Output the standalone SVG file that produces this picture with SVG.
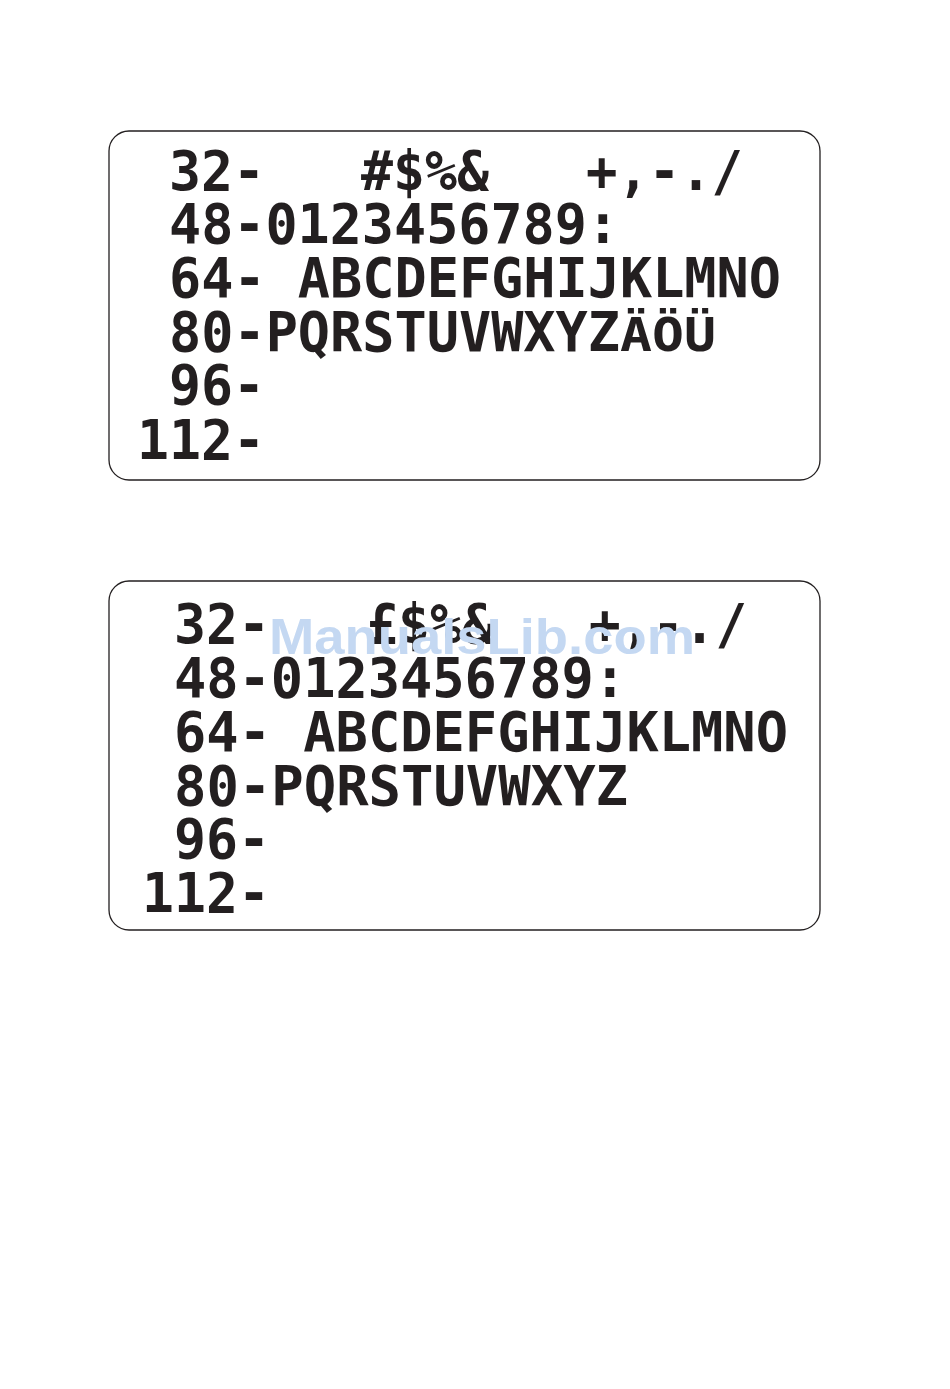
<svg xmlns="http://www.w3.org/2000/svg" width="950" height="1389" viewBox="0 0 950 1389">
  <style>
    .box { fill: #ffffff; stroke: #231f20; stroke-width: 1.3; }
    .t { font-family: "DejaVu Sans Mono", "Liberation Mono", monospace; font-weight: bold; font-size: 56px; fill: #231f20; }
    .u { font-family: "DejaVu Sans Mono", "Liberation Mono", monospace; font-weight: bold; font-size: 46px; fill: #231f20; }
    .wm { font-family: "Liberation Sans", Arial, sans-serif; font-weight: bold; font-size: 50px; fill: #c4d8f2; }
  </style>
  <rect x="0" y="0" width="950" height="1389" fill="#ffffff"/>

  <g id="charset-1">
    <rect class="box" x="109" y="131" width="711" height="349" rx="20" ry="20"/>
    <text class="t" x="169" y="190" textLength="96" lengthAdjust="spacingAndGlyphs">32-</text>
    <text class="t" x="361" y="190" textLength="128" lengthAdjust="spacingAndGlyphs">#$%&amp;</text>
    <text class="t" x="586" y="190" textLength="157" lengthAdjust="spacingAndGlyphs">+,-./</text>
    <text class="t" x="169" y="243" textLength="450" lengthAdjust="spacingAndGlyphs">48-0123456789:</text>
    <text class="t" x="169" y="297" textLength="612" lengthAdjust="spacingAndGlyphs">64- ABCDEFGHIJKLMNO</text>
    <text class="t" x="169" y="351" textLength="451" lengthAdjust="spacingAndGlyphs">80-PQRSTUVWXYZ</text>
    <text class="u" x="620" y="351" textLength="96" lengthAdjust="spacingAndGlyphs">ÄÖÜ</text>
    <text class="t" x="169" y="404" textLength="96" lengthAdjust="spacingAndGlyphs">96-</text>
    <text class="t" x="137" y="459" textLength="128" lengthAdjust="spacingAndGlyphs">112-</text>
  </g>

  <g id="charset-2">
    <rect class="box" x="109" y="581" width="711" height="349" rx="20" ry="20"/>
    <text class="t" x="174" y="643" textLength="96" lengthAdjust="spacingAndGlyphs">32-</text>
    <text class="t" x="366" y="643" textLength="128" lengthAdjust="spacingAndGlyphs">£$%&amp;</text>
    <text class="t" x="589" y="643" textLength="158" lengthAdjust="spacingAndGlyphs">+,-./</text>
    <text class="t" x="174" y="697" textLength="452" lengthAdjust="spacingAndGlyphs">48-0123456789:</text>
    <text class="t" x="174" y="751" textLength="614" lengthAdjust="spacingAndGlyphs">64- ABCDEFGHIJKLMNO</text>
    <text class="t" x="174" y="805" textLength="454" lengthAdjust="spacingAndGlyphs">80-PQRSTUVWXYZ</text>
    <text class="t" x="174" y="858" textLength="96" lengthAdjust="spacingAndGlyphs">96-</text>
    <text class="t" x="142" y="912" textLength="128" lengthAdjust="spacingAndGlyphs">112-</text>
    <text class="wm" x="269" y="654" textLength="426" lengthAdjust="spacingAndGlyphs">ManualsLib.com</text>
  </g>
</svg>
